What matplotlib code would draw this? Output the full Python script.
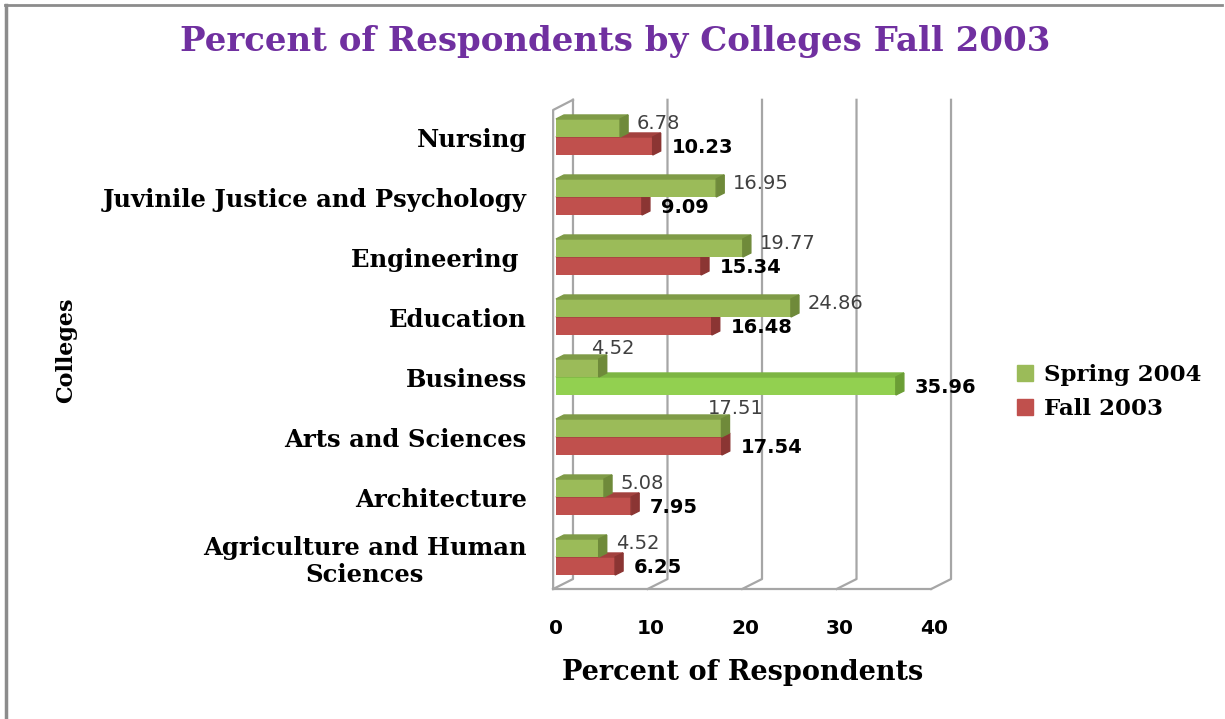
import matplotlib.pyplot as plt
from matplotlib.patches import Polygon, Patch
from matplotlib.lines import Line2D

colleges = ['Agriculture and Human\nSciences', 'Architecture', 'Arts and Sciences',
            'Business', 'Education', 'Engineering ', 'Juvinile Justice and Psychology',
            'Nursing']
spring_2004 = [4.52, 5.08, 17.51, 4.52, 24.86, 19.77, 16.95, 6.78]
fall_2003 = [6.25, 7.95, 17.54, 35.96, 16.48, 15.34, 9.09, 10.23]
ticks = [0, 10, 20, 30, 40]

# labels Excel pushed above the bar
above = ['Business', 'Arts and Sciences']

GREEN = ('#9BBB59', '#6F8A3A', '#7F9B47')
RED = ('#C0504D', '#8B3533', '#A3413E')
LIGHT = ('#92D050', '#6B9E35', '#7DB543')

serif = 'DejaVu Serif'
sans = 'DejaVu Sans'

fig = plt.figure(figsize=(12.25, 7.19), dpi=100)
ax = fig.add_axes([540 / 1225, 1 - 595 / 719, 420 / 1225, 500 / 719])
ax.set_xlim(-1.69, 42.75)
ax.set_ylim(-0.633, 7.7)

# fake 3d box: back wall gridlines, left wall, floor
wall_f = -0.3
wall_b = 1.8
top_b, top_f = 7.62, 7.45
floor_b, floor_f = -0.367, -0.533
gridc = '#A6A6A6'
for t in ticks:
    ax.plot([t + wall_b, t + wall_b, t + wall_f], [top_b, floor_b, floor_f],
            color=gridc, lw=1.6, zorder=1, clip_on=False)
ax.plot([wall_f, wall_f, wall_b], [floor_f, top_f, top_b], color=gridc, lw=1.6,
        zorder=1, clip_on=False)
ax.plot([wall_f, ticks[-1] + wall_f], [floor_f, floor_f], color=gridc, lw=1.6,
        zorder=1, clip_on=False)

dx = 0.85
dy = 0.067
h = 0.3
z = [3]


def bar3d(y, v, cols):
    face, side, top = cols
    ax.barh(y, v, height=h, left=0, align='edge', color=face, zorder=z[0])
    ax.add_patch(Polygon([(0, y + h), (dx, y + h + dy), (v + dx, y + h + dy), (v, y + h)],
                         closed=True, color=top, zorder=z[0]))
    ax.add_patch(Polygon([(v, y), (v + dx, y + dy), (v + dx, y + h + dy), (v, y + h)],
                         closed=True, color=side, zorder=z[0]))
    z[0] += 1


for i, name in enumerate(colleges):
    fcol = LIGHT if name == 'Business' else RED
    bar3d(i - h, fall_2003[i], fcol)
    bar3d(i, spring_2004[i], GREEN)

    sv = spring_2004[i]
    if name in above:
        ax.text(sv + 1.5, i + 0.48, f'{sv:.2f}', ha='center', va='center',
                fontsize=14, color='#404040', family=sans, zorder=50)
    else:
        ax.text(sv + 1.8, i + 0.23, f'{sv:.2f}', ha='left', va='center',
                fontsize=14, color='#404040', family=sans, zorder=50)
    fv = fall_2003[i]
    ax.text(fv + 2.0, i - 0.17, f'{fv:.2f}', ha='left', va='center',
            fontsize=14, fontweight='bold', color='black', family=sans, zorder=50)

for s in ax.spines.values():
    s.set_visible(False)
ax.set_yticks(range(len(colleges)))
ax.set_yticklabels(colleges, family=serif, fontweight='bold', fontsize=17.5)
for lab in ax.get_yticklabels():
    lab.set_multialignment('center')
ax.set_xticks(ticks)
ax.set_xticklabels([str(t) for t in ticks], family=sans, fontweight='bold', fontsize=14.5)
ax.tick_params(axis='y', length=0, pad=9.5)
ax.tick_params(axis='x', length=0, pad=17)

fig.text(615 / 1225, 1 - 42 / 719, 'Percent of Respondents by Colleges Fall 2003',
         ha='center', va='center', fontsize=24.5, fontweight='bold', color='#7030A0',
         family=serif)
fig.text(66 / 1225, 1 - 350 / 719, 'Colleges', rotation=90, ha='center', va='center',
         fontsize=16, fontweight='bold', family=serif)
fig.text(743 / 1225, 1 - 673 / 719, 'Percent of Respondents', ha='center', va='center',
         fontsize=19.5, fontweight='bold', family=serif)

handles = [Patch(color=GREEN[0], label='Spring 2004'), Patch(color=RED[0], label='Fall 2003')]
fig.legend(handles=handles, loc='center left', bbox_to_anchor=(996 / 1225, 1 - 392 / 719),
           frameon=False, prop=dict(family=serif, weight='bold', size=16.5),
           handlelength=0.7, handleheight=0.7, handletextpad=0.5, labelspacing=0.5)

# page border (top and left only)
fig.add_artist(Line2D([5 / 1225, 1222 / 1225], [1 - 5 / 719, 1 - 5 / 719],
                      transform=fig.transFigure, color='#8C8C8C', lw=2))
fig.add_artist(Line2D([6 / 1225, 6 / 1225], [0, 1 - 5 / 719],
                      transform=fig.transFigure, color='#8C8C8C', lw=2.5))

fig.savefig('out.png', dpi=100)
